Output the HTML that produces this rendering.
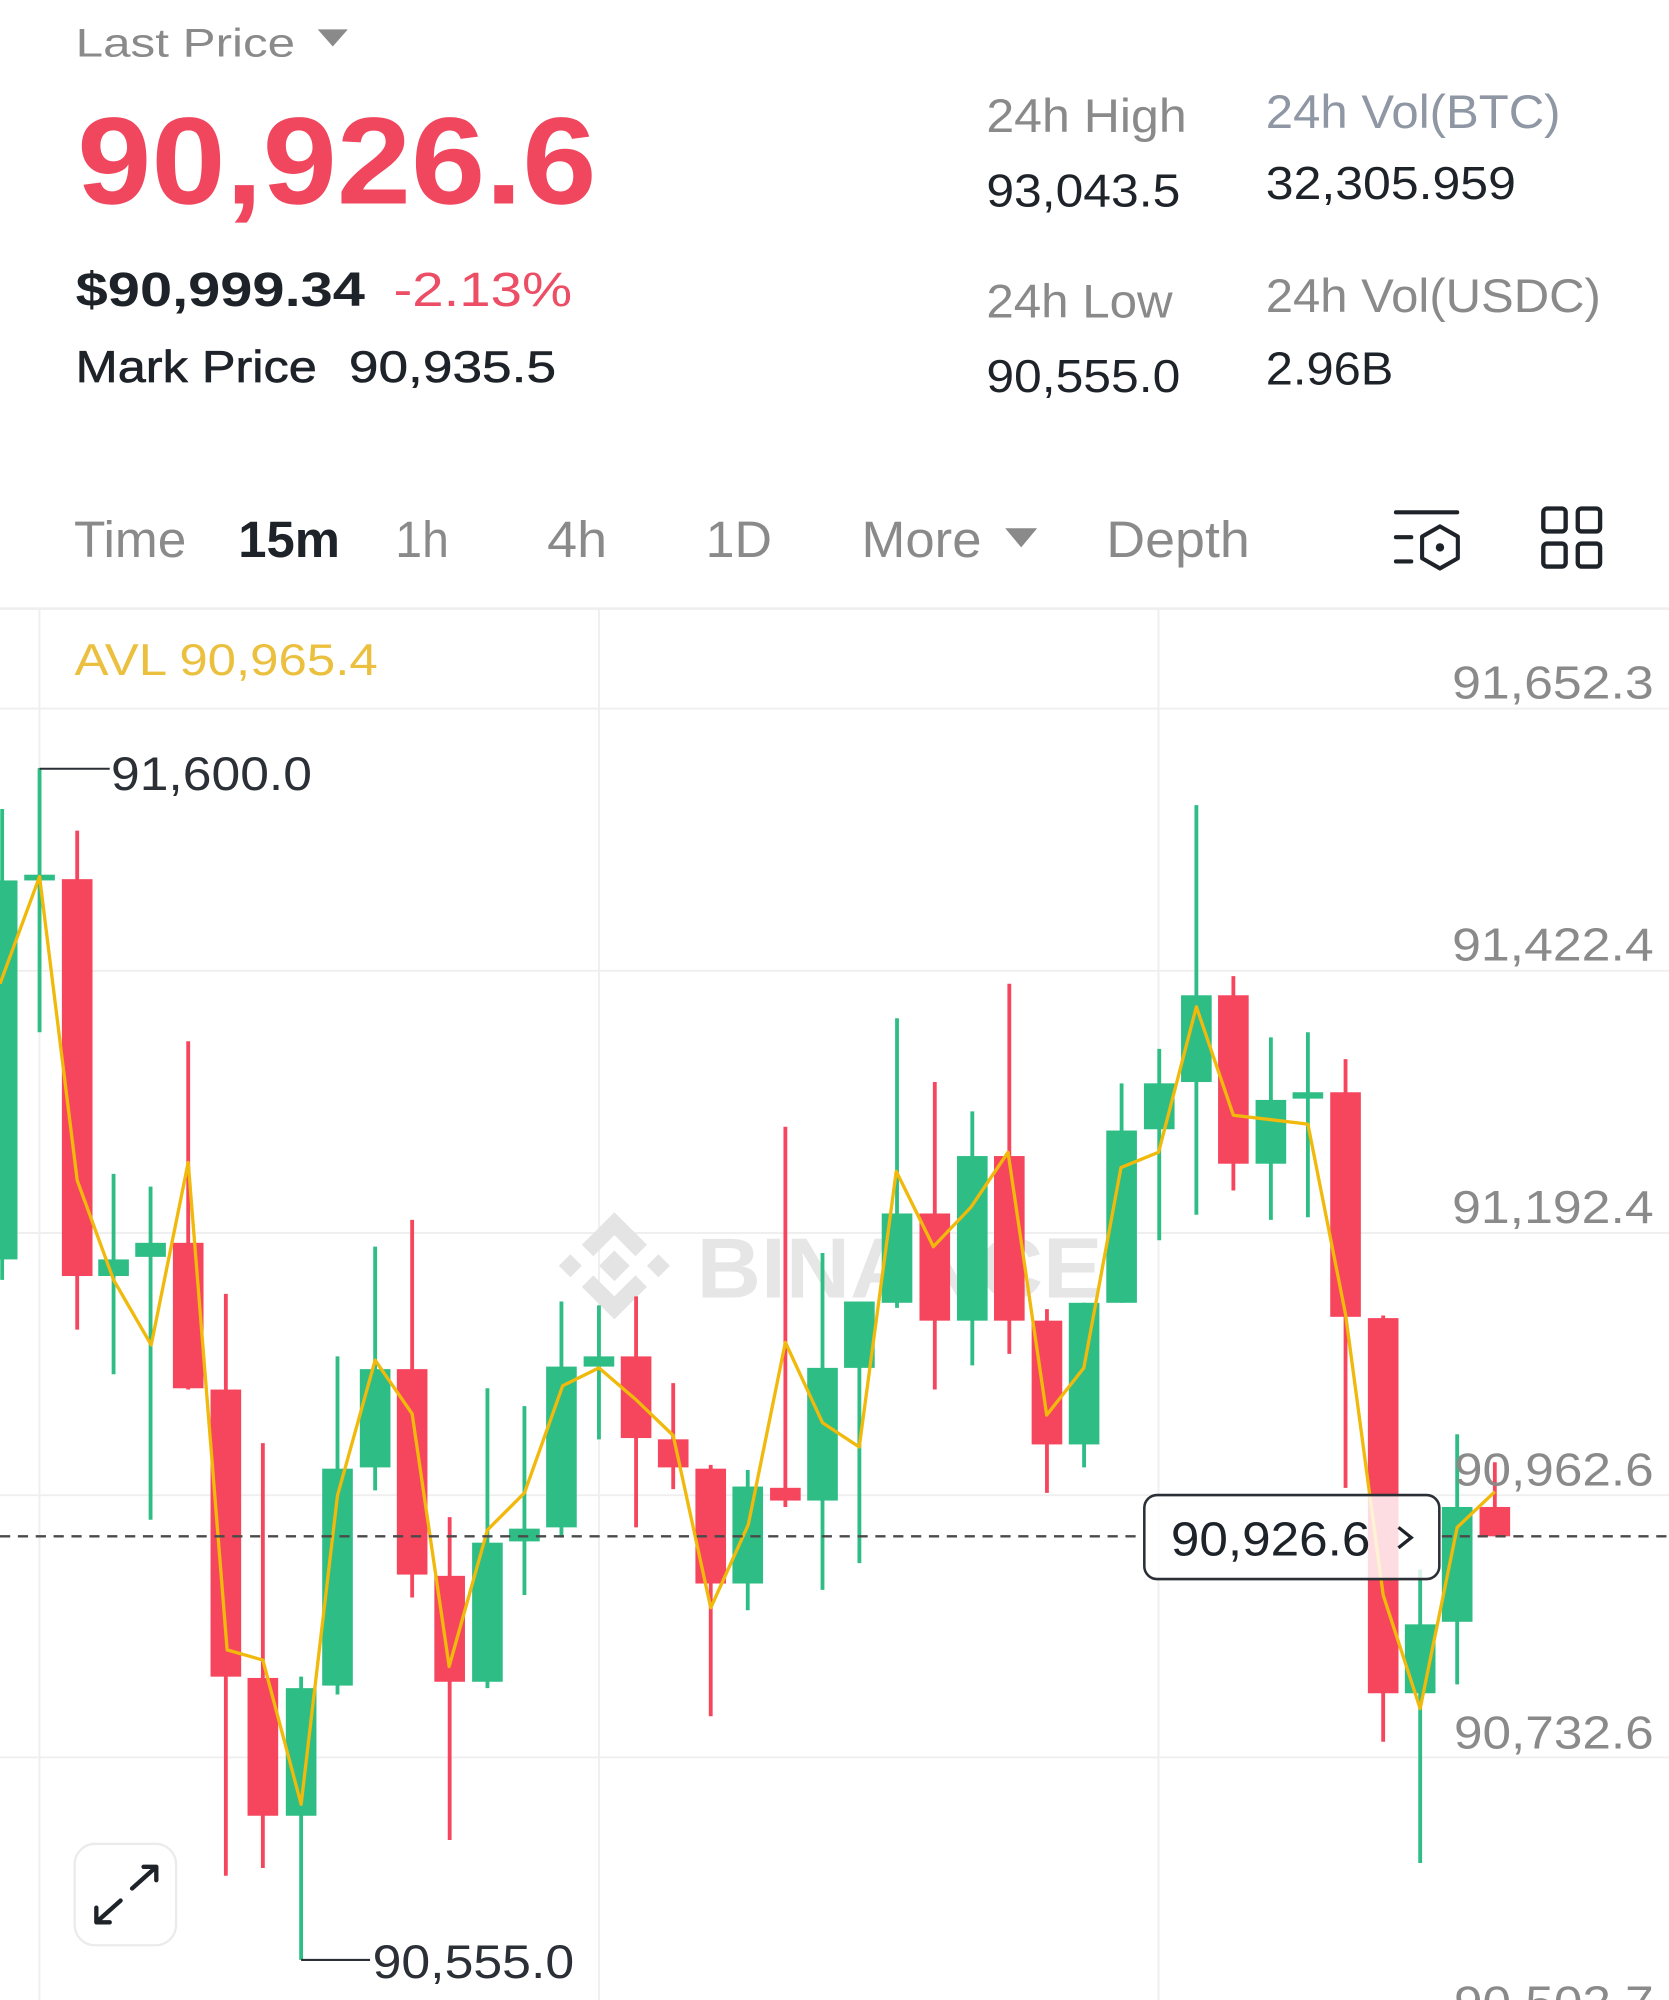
<!DOCTYPE html>
<html>
<head>
<meta charset="utf-8">
<style>
html,body{margin:0;padding:0;background:#fff;overflow:hidden;}
svg{display:block;}
text{font-family:"Liberation Sans",Arial,sans-serif;}
</style>
</head>
<body>
<svg width="1669" height="2000" viewBox="0 0 1308 1567.4" preserveAspectRatio="none" xmlns="http://www.w3.org/2000/svg">
<rect x="0" y="0" width="1308" height="1567.4" fill="#ffffff"/>

<!-- Header -->
<text x="59.3" y="44.2" font-size="31" fill="#8a8a8a" textLength="172" lengthAdjust="spacingAndGlyphs">Last Price</text>
<polygon points="249,23 272.6,23 260.8,36.4" fill="#8a8a8a"/>
<text x="60.5" y="159.5" font-size="97" font-weight="bold" fill="#F0465E" textLength="407" lengthAdjust="spacingAndGlyphs">90,926.6</text>
<text x="59.3" y="240" font-size="38" font-weight="bold" fill="#1E2329" textLength="226.7" lengthAdjust="spacingAndGlyphs">$90,999.34</text>
<text x="308.4" y="240" font-size="38" fill="#EC4E66" textLength="140" lengthAdjust="spacingAndGlyphs">-2.13%</text>
<text x="59.3" y="299.5" font-size="35" fill="#1E2329" stroke="#1E2329" stroke-width="0.5" textLength="189" lengthAdjust="spacingAndGlyphs">Mark Price</text>
<text x="273.4" y="299.5" font-size="35" fill="#1E2329" stroke="#1E2329" stroke-width="0.4" textLength="162.4" lengthAdjust="spacingAndGlyphs">90,935.5</text>

<text x="773" y="103.5" font-size="37" fill="#8a8a8a" textLength="157" lengthAdjust="spacingAndGlyphs">24h High</text>
<text x="773" y="162" font-size="36" fill="#1E2329" textLength="152" lengthAdjust="spacingAndGlyphs">93,043.5</text>
<text x="992" y="100.5" font-size="37" fill="#8F97A4" textLength="231" lengthAdjust="spacingAndGlyphs">24h Vol(BTC)</text>
<text x="992" y="156" font-size="36" fill="#1E2329" textLength="196" lengthAdjust="spacingAndGlyphs">32,305.959</text>
<text x="773" y="249" font-size="37" fill="#8a8a8a" textLength="146" lengthAdjust="spacingAndGlyphs">24h Low</text>
<text x="773" y="307.4" font-size="36" fill="#1E2329" textLength="152" lengthAdjust="spacingAndGlyphs">90,555.0</text>
<text x="992" y="244.4" font-size="37" fill="#8a8a8a" textLength="262.6" lengthAdjust="spacingAndGlyphs">24h Vol(USDC)</text>
<text x="992" y="301.4" font-size="36" fill="#1E2329" textLength="100" lengthAdjust="spacingAndGlyphs">2.96B</text>

<!-- Toolbar -->
<text x="58" y="436.4" font-size="40" fill="#8a8a8a" textLength="88" lengthAdjust="spacingAndGlyphs">Time</text>
<text x="186.7" y="436.4" font-size="40" font-weight="bold" fill="#1E2329" textLength="79.7" lengthAdjust="spacingAndGlyphs">15m</text>
<text x="309.8" y="436.4" font-size="40" fill="#8a8a8a" textLength="42" lengthAdjust="spacingAndGlyphs">1h</text>
<text x="428.8" y="436.4" font-size="40" fill="#8a8a8a" textLength="47" lengthAdjust="spacingAndGlyphs">4h</text>
<text x="553" y="436.4" font-size="40" fill="#8a8a8a" textLength="52" lengthAdjust="spacingAndGlyphs">1D</text>
<text x="675.2" y="436.4" font-size="40" fill="#8a8a8a" textLength="94" lengthAdjust="spacingAndGlyphs">More</text>
<polygon points="787.8,414 812.8,414 800.3,429" fill="#8a8a8a"/>
<text x="867" y="436.4" font-size="40" fill="#8a8a8a" textLength="112.5" lengthAdjust="spacingAndGlyphs">Depth</text>

<!-- icon 1 -->
<g stroke="#1E2329" stroke-width="3.2" fill="none" stroke-linecap="round">
  <line x1="1094" y1="401.5" x2="1142" y2="401.5"/>
  <line x1="1094" y1="421" x2="1106" y2="421"/>
  <line x1="1094" y1="440" x2="1106" y2="440"/>
  <polygon points="1128.5,412.5 1142.5,420.5 1142.5,437.5 1128.5,445.5 1114.5,437.5 1114.5,420.5" stroke-linejoin="round"/>
</g>
<circle cx="1128.5" cy="429" r="3.3" fill="#1E2329"/>
<!-- icon 2 -->
<g stroke="#1E2329" stroke-width="3.4" fill="none">
  <rect x="1209.5" y="398.5" width="17.5" height="18" rx="3"/>
  <rect x="1236.5" y="398.5" width="17.5" height="18" rx="3"/>
  <rect x="1209.5" y="426" width="17.5" height="18" rx="3"/>
  <rect x="1236.5" y="426" width="17.5" height="18" rx="3"/>
</g>

<!-- Chart grid -->
<line x1="0" y1="477" x2="1308" y2="477" stroke="#EEEEEE" stroke-width="2"/>
<g stroke="#EFEFEF" stroke-width="1.5">
  <line x1="0" y1="555.3" x2="1308" y2="555.3"/>
  <line x1="0" y1="760.8" x2="1308" y2="760.8"/>
  <line x1="0" y1="966.3" x2="1308" y2="966.3"/>
  <line x1="0" y1="1171.8" x2="1308" y2="1171.8"/>
  <line x1="0" y1="1377.3" x2="1308" y2="1377.3"/>
  <line x1="30.9" y1="477" x2="30.9" y2="1568"/>
  <line x1="469.4" y1="477" x2="469.4" y2="1568"/>
  <line x1="907.9" y1="477" x2="907.9" y2="1568"/>
</g>

<!-- Watermark -->
<g fill="#E4E4E4">
  <polygon points="481.5,950 507,975.5 498,984.5 481.5,968 465,984.5 456,975.5"/>
  <polygon points="481.5,1034 507,1008.5 498,999.5 481.5,1016 465,999.5 456,1008.5"/>
  <polygon points="481.5,980 493.5,992 481.5,1004 469.5,992"/>
  <polygon points="438,992 447,983 456,992 447,1001"/>
  <polygon points="507,992 516,983 525,992 516,1001"/>
</g>
<text x="546" y="1017" font-size="67" font-weight="bold" fill="#E6E6E6" textLength="318" lengthAdjust="spacingAndGlyphs">BINANCE</text>

<!-- AVL label -->
<text x="58.4" y="529" font-size="35" fill="#EBC03F" textLength="237.6" lengthAdjust="spacingAndGlyphs">AVL 90,965.4</text>

<!-- Green candles -->
<g stroke="#2EBD85" stroke-width="3">
  <line x1="1.7" y1="634" x2="1.7" y2="1003"/>
  <line x1="31" y1="602" x2="31" y2="809"/>
  <line x1="89" y1="920" x2="89" y2="1077"/>
  <line x1="118" y1="930" x2="118" y2="1191"/>
  <line x1="236" y1="1314" x2="236" y2="1536"/>
  <line x1="264.5" y1="1063" x2="264.5" y2="1328"/>
  <line x1="294" y1="977" x2="294" y2="1168"/>
  <line x1="382" y1="1088" x2="382" y2="1323"/>
  <line x1="411" y1="1102" x2="411" y2="1250"/>
  <line x1="440" y1="1020" x2="440" y2="1205"/>
  <line x1="469.4" y1="1023" x2="469.4" y2="1128"/>
  <line x1="586" y1="1152" x2="586" y2="1262"/>
  <line x1="644.6" y1="982" x2="644.6" y2="1246"/>
  <line x1="673.5" y1="1020" x2="673.5" y2="1225"/>
  <line x1="703" y1="798" x2="703" y2="1025"/>
  <line x1="762" y1="871" x2="762" y2="1070"/>
  <line x1="849.6" y1="1021" x2="849.6" y2="1150"/>
  <line x1="879" y1="849" x2="879" y2="1021"/>
  <line x1="908.5" y1="822" x2="908.5" y2="972"/>
  <line x1="937.6" y1="631" x2="937.6" y2="952"/>
  <line x1="996" y1="813" x2="996" y2="956"/>
  <line x1="1025" y1="809" x2="1025" y2="954"/>
  <line x1="1113" y1="1230" x2="1113" y2="1460"/>
  <line x1="1142" y1="1124" x2="1142" y2="1320"/>
</g>
<g fill="#2EBD85">
  <rect x="-10.3" y="690" width="24" height="297"/>
  <rect x="19" y="685.5" width="24" height="4.5"/>
  <rect x="77" y="987" width="24" height="13"/>
  <rect x="106" y="974" width="24" height="11"/>
  <rect x="224" y="1323" width="24" height="100"/>
  <rect x="252.5" y="1151" width="24" height="170"/>
  <rect x="282" y="1073" width="24" height="77"/>
  <rect x="370" y="1209" width="24" height="109"/>
  <rect x="399" y="1198" width="24" height="10"/>
  <rect x="428" y="1071" width="24" height="126"/>
  <rect x="457.4" y="1063" width="24" height="8"/>
  <rect x="574" y="1165" width="24" height="76"/>
  <rect x="632.6" y="1072" width="24" height="104"/>
  <rect x="661.5" y="1020" width="24" height="52"/>
  <rect x="691" y="951" width="24" height="70"/>
  <rect x="750" y="906" width="24" height="129"/>
  <rect x="837.6" y="1021" width="24" height="111"/>
  <rect x="867" y="886" width="24" height="135"/>
  <rect x="896.5" y="849" width="24" height="36"/>
  <rect x="925.6" y="780" width="24" height="68"/>
  <rect x="984" y="862" width="24" height="50"/>
  <rect x="1013" y="856" width="24" height="5"/>
  <rect x="1101" y="1273" width="24" height="54"/>
  <rect x="1130" y="1181" width="24" height="90"/>
</g>

<!-- Red candles -->
<g stroke="#F6465D" stroke-width="3">
  <line x1="60.5" y1="651" x2="60.5" y2="1042"/>
  <line x1="147.5" y1="816" x2="147.5" y2="1089"/>
  <line x1="177" y1="1014" x2="177" y2="1470"/>
  <line x1="206" y1="1131" x2="206" y2="1464"/>
  <line x1="323" y1="956" x2="323" y2="1252"/>
  <line x1="352.4" y1="1189" x2="352.4" y2="1442"/>
  <line x1="498.5" y1="1016" x2="498.5" y2="1197"/>
  <line x1="527.6" y1="1084" x2="527.6" y2="1167"/>
  <line x1="557" y1="1148" x2="557" y2="1345"/>
  <line x1="615.5" y1="883" x2="615.5" y2="1181"/>
  <line x1="732.6" y1="848" x2="732.6" y2="1089"/>
  <line x1="791" y1="771" x2="791" y2="1061"/>
  <line x1="820.5" y1="1026" x2="820.5" y2="1170"/>
  <line x1="966.6" y1="765" x2="966.6" y2="933"/>
  <line x1="1054.5" y1="830" x2="1054.5" y2="1166"/>
  <line x1="1084" y1="1031" x2="1084" y2="1365"/>
  <line x1="1171.5" y1="1146" x2="1171.5" y2="1204"/>
</g>
<g fill="#F6465D">
  <rect x="48.5" y="689" width="24" height="311"/>
  <rect x="135.5" y="974" width="24" height="114"/>
  <rect x="165" y="1089" width="24" height="225"/>
  <rect x="194" y="1315" width="24" height="108"/>
  <rect x="311" y="1073" width="24" height="161"/>
  <rect x="340.4" y="1235" width="24" height="83"/>
  <rect x="486.5" y="1063" width="24" height="64"/>
  <rect x="515.6" y="1128" width="24" height="22"/>
  <rect x="545" y="1151" width="24" height="90"/>
  <rect x="603.5" y="1166" width="24" height="10"/>
  <rect x="720.6" y="951" width="24" height="84"/>
  <rect x="779" y="906" width="24" height="129"/>
  <rect x="808.5" y="1035" width="24" height="97"/>
  <rect x="954.6" y="780" width="24" height="132"/>
  <rect x="1042.5" y="856" width="24" height="176"/>
  <rect x="1072" y="1033" width="24" height="294"/>
  <rect x="1159.5" y="1181" width="24" height="23"/>
</g>

<!-- AVL line -->
<polyline fill="none" stroke="#F0B90B" stroke-width="2.6" stroke-linejoin="round"
 points="0,771 31,687 60.5,925 89,1003 118.5,1054 147.5,911 178,1293 206,1301 236,1414 264.5,1172 294,1066 323,1108 352,1306 382,1199 411,1170 441,1086 469.4,1072 498.5,1097 527.6,1125 557,1260 586.4,1195 615.5,1052 644.6,1115 673.4,1134 702.4,918 731.5,977 761,946 790,903 820.3,1109 849.4,1072 878.5,915 908,903 937.6,789 966.6,874 996,877.5 1025,881 1054.5,1030 1084,1250 1113,1339 1142,1197 1171.5,1169"/>

<!-- Last price dashed line -->
<g stroke="#4a4a4a" stroke-width="1.8" stroke-dasharray="8 6">
  <line x1="0" y1="1204" x2="896.8" y2="1204"/>
  <line x1="1130" y1="1204" x2="1308" y2="1204"/>
</g>

<!-- High / Low markers -->
<line x1="31" y1="602.5" x2="86" y2="602.5" stroke="#2B2F36" stroke-width="1.6"/>
<text x="87" y="619" font-size="37" fill="#2B2F36" textLength="157.5" lengthAdjust="spacingAndGlyphs">91,600.0</text>
<line x1="236" y1="1536" x2="290" y2="1536" stroke="#2B2F36" stroke-width="1.6"/>
<text x="292" y="1550" font-size="37" fill="#2B2F36" textLength="158" lengthAdjust="spacingAndGlyphs">90,555.0</text>

<!-- Axis labels -->
<g font-size="36.5" fill="#8a8a8a" text-anchor="end">
  <text x="1296" y="547.3" textLength="158" lengthAdjust="spacingAndGlyphs">91,652.3</text>
  <text x="1296" y="752.8" textLength="158" lengthAdjust="spacingAndGlyphs">91,422.4</text>
  <text x="1296" y="958.3" textLength="158" lengthAdjust="spacingAndGlyphs">91,192.4</text>
  <text x="1296" y="1164" textLength="156.5" lengthAdjust="spacingAndGlyphs">90,962.6</text>
  <text x="1296" y="1370.4" textLength="156.5" lengthAdjust="spacingAndGlyphs">90,732.6</text>
  <text x="1296" y="1582" textLength="156.5" lengthAdjust="spacingAndGlyphs">90,502.7</text>
</g>

<!-- Price box -->
<rect x="896.8" y="1171.7" width="231.2" height="65.8" rx="10" fill="#ffffff" fill-opacity="0.82" stroke="#2B2F36" stroke-width="2"/>
<text x="917.6" y="1219" font-size="38" fill="#1E2329" textLength="156.4" lengthAdjust="spacingAndGlyphs">90,926.6</text>
<polyline points="1096,1197 1106,1205 1096,1213" fill="none" stroke="#1E2329" stroke-width="2.6"/>

<!-- Expand button -->
<rect x="58.5" y="1445" width="79.5" height="79.5" rx="16" fill="#ffffff" stroke="#EBEBEB" stroke-width="1.8"/>
<g stroke="#1E2329" stroke-width="3.4" fill="none" stroke-linecap="round" stroke-linejoin="round">
  <line x1="103.5" y1="1480" x2="122" y2="1463.5"/>
  <polyline points="112.5,1463 122.5,1463 122.5,1473.5"/>
  <line x1="76" y1="1506" x2="94.5" y2="1489.5"/>
  <polyline points="75.5,1495 75.5,1506.5 86,1506.5"/>
</g>
</svg>
</body>
</html>
